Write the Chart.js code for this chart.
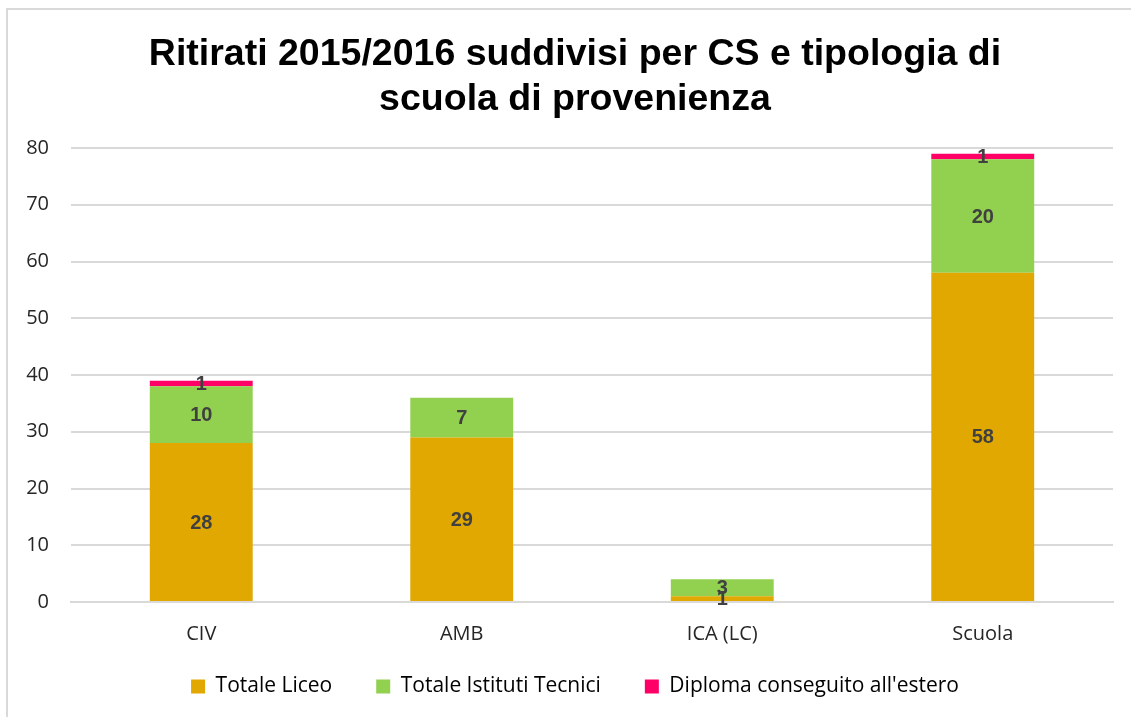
<!DOCTYPE html>
<html>
<head>
<meta charset="utf-8">
<script src="https://cdn.jsdelivr.net/npm/chart.js@4/dist/chart.umd.min.js"></script>
<style>
  html, body { margin: 0; padding: 0; background: #fff; overflow: hidden; }
  #frame {
    position: absolute; left: 6px; top: 8px; width: 1140px; height: 730px;
    border: 2px solid #d9d9d9; box-sizing: border-box;
  }
  #wrap { position: absolute; left: 0; top: 0; width: 1131px; height: 717px; }
</style>
</head>
<body>
<div id="frame"></div>
<div id="wrap"><canvas id="chart"></canvas></div>
<script>
const categories = ['CIV', 'AMB', 'ICA (LC)', 'Scuola'];
const totaleLiceo = [28, 29, 1, 58];
const totaleTecnici = [10, 7, 3, 20];
const diplomaEstero = [1, 0, 0, 1];
const yTicks = [0, 10, 20, 30, 40, 50, 60, 70, 80];

const legendShrink = 26;

// draws the value in the middle of each bar segment (no datalabels plugin available)
const segmentLabels = {
    id: 'segmentLabels',
    afterDatasetsDraw(chart) {
        const ctx = chart.ctx;
        ctx.save();
        ctx.font = 'bold 20px "Liberation Sans", Arial, sans-serif';
        ctx.fillStyle = '#404040';
        ctx.textAlign = 'center';
        ctx.textBaseline = 'middle';
        chart.data.datasets.forEach((ds, i) => {
            chart.getDatasetMeta(i).data.forEach((bar, j) => {
                const v = ds.data[j];
                if (!v) return;
                const mid = (bar.y + bar.base) / 2;
                ctx.fillText(String(v), bar.x, mid + 1);
            });
        });
        ctx.restore();
    }
};

// legend padding also sets the gap between items; take back some of the vertical space
// and give the y labels room on the left so the title can stay centred
const layoutTweaks = {
    id: 'layoutTweaks',
    beforeLayout(chart) {
        const lg = chart.legend;
        if (lg && !lg._tight) {
            const fit = lg.fit.bind(lg);
            lg.fit = function () { fit(); this.height -= legendShrink; };
            lg._tight = true;
        }
    },
    afterLayout(chart) {
        const lg = chart.legend;
        if (lg) lg.top -= legendShrink;
        if (chart.scales.y) chart.scales.y.left = 10;
    }
};

new Chart(document.getElementById('chart'), {
    type: 'bar',
    data: {
        labels: categories,
        datasets: [
            { label: 'Totale Liceo', data: totaleLiceo, backgroundColor: '#E0A800' },
            { label: 'Totale Istituti Tecnici', data: totaleTecnici, backgroundColor: '#92D050' },
            { label: "Diploma conseguito all'estero", data: diplomaEstero, backgroundColor: '#FF0066' }
        ]
    },
    options: {
        responsive: true,
        maintainAspectRatio: false,
        animation: false,
        categoryPercentage: 0.395,
        barPercentage: 1,
        layout: { padding: { left: 37, right: 18, top: 32, bottom: 10 } },
        plugins: {
            title: {
                display: true,
                text: ['Ritirati 2015/2016 suddivisi per CS e tipologia di', 'scuola di provenienza'],
                color: '#000',
                font: { family: '"Liberation Sans", Arial, sans-serif', size: 37.5, weight: 'bold', lineHeight: 1.2 },
                padding: { top: 0, bottom: 26 }
            },
            legend: {
                position: 'bottom',
                labels: {
                    color: '#000',
                    boxWidth: 14,
                    boxHeight: 14,
                    padding: 44,
                    font: { family: '"Open Sans", sans-serif', size: 21 }
                }
            },
            tooltip: { enabled: false }
        },
        scales: {
            x: {
                stacked: true,
                grid: { display: false },
                border: { color: '#d9d9d9', width: 2 },
                ticks: { color: '#262626', padding: 12, font: { family: '"Open Sans", sans-serif', size: 20 } }
            },
            y: {
                stacked: true,
                min: yTicks[0],
                max: yTicks[yTicks.length - 1],
                afterBuildTicks: axis => { axis.ticks = yTicks.map(v => ({ value: v })); },
                afterFit: axis => { axis.width = 34; },
                grid: { color: '#d9d9d9', lineWidth: 2, drawTicks: false },
                border: { display: false },
                ticks: { color: '#262626', padding: 22, font: { family: '"Open Sans", sans-serif', size: 20 } }
            }
        }
    },
    plugins: [segmentLabels, layoutTweaks]
});
</script>
</body>
</html>
